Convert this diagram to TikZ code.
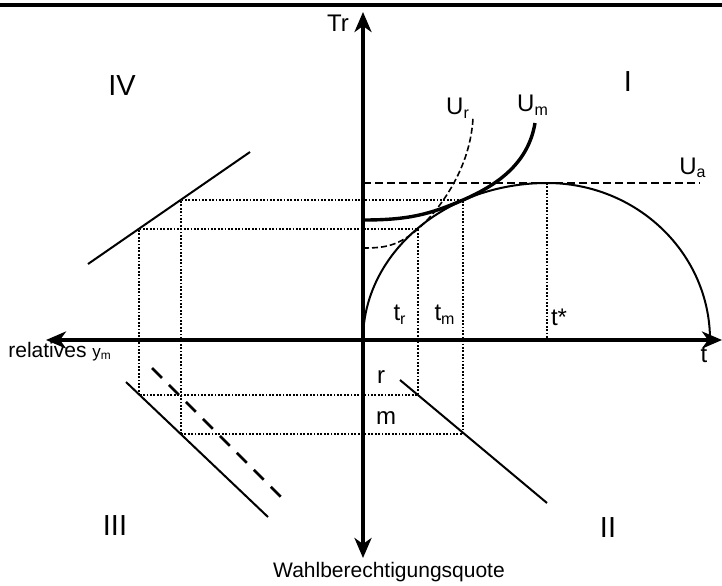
\documentclass[tikz,border=0pt]{standalone}
\usepackage{fontspec}
\setmainfont{Liberation Sans}
\usepackage{tikz}
\usetikzlibrary{arrows.meta, positioning}

\begin{document}
\begin{tikzpicture}[
  x=0.5pt, y=-0.5pt,
  axis/.style={{Stealth[length=10pt, width=8.5pt, inset=3pt]}-{Stealth[length=10pt, width=8.5pt, inset=3pt]}, line width=2pt},
  curve/.style={line width=1pt},
  util/.style={line width=1.7pt},
  utilr/.style={line width=0.8pt, dash pattern=on 3pt off 1.5pt},
  level/.style={line width=0.8pt, dash pattern=on 4pt off 2pt},
  guide/.style={line width=1pt, dash pattern=on 0.9pt off 0.8pt},
  proj/.style={line width=1pt},
  projd/.style={line width=1.3pt, dash pattern=on 7pt off 5pt},
  lbl/.style={font=\fontsize{12}{14}\selectfont, inner sep=0pt},
  quad/.style={font=\fontsize{14.5}{16}\selectfont, inner sep=0pt}
]
  \useasboundingbox (0,0) rectangle (722,585);
  \draw[line width=2pt] (0,4.5) -- (722,4.5);

  % axes
  \coordinate (O) at (363,340);
  \coordinate (xl) at (46,340);
  \coordinate (xr) at (722,340);
  \coordinate (yt) at (363,12);
  \coordinate (yb) at (363,558);
  \draw[axis] (xl) -- (xr);
  \draw[axis] (yb) -- (yt);

  % points of tangency and their projections
  \coordinate (Pr) at (418,229);
  \coordinate (Pm) at (463,200);
  \coordinate (Ps) at (547,183);
  \coordinate (Ps0) at (547,340);
  \coordinate (Qr) at (139,395);
  \coordinate (Qm) at (181,434);
  \coordinate (Ur0) at (363,248);
  \coordinate (Um0) at (363,220);
  \coordinate (Urend) at (473,118);
  \coordinate (Umend) at (535,123);
  \coordinate (Uaend) at (700,183);
  \coordinate (Ua0) at (363,183);
  \coordinate (Tend) at (710,340);

  % dotted guides
  \draw[guide] (Qr) rectangle (Pr);
  \draw[guide] (Qm) rectangle (Pm);
  \draw[guide] (Ps) -- (Ps0);

  % transformation curve
  \draw[curve] (O) .. controls (363,253.3) and (445.4,183) .. (Ps)
                   .. controls (637,183) and (710,253.3) .. (Tend);
  \draw[level] (Ua0) -- (Uaend);
  \draw[util] (Um0) .. controls (410,220) and (430,214) .. (Pm)
                    .. controls (495,186) and (528,165) .. (Umend);
  \draw[utilr] (Ur0) .. controls (385,248) and (398,246) .. (Pr)
                     .. controls (432,217) and (470,175) .. (Urend);

  % quadrant lines
  \coordinate (a4) at (88,264);
  \coordinate (b4) at (250,152);
  \coordinate (a3) at (126,382);
  \coordinate (b3) at (268,517);
  \coordinate (c3) at (152,368);
  \coordinate (d3) at (286,502);
  \coordinate (a2) at (400,380);
  \coordinate (b2) at (547,503);
  \draw[proj] (a4) -- (b4);
  \draw[proj] (a3) -- (b3);
  \draw[projd] (c3) -- (d3);
  \draw[proj] (a2) -- (b2);

  % labels
  \node[lbl] (tr) at (338,23) {Tr};
  \node[lbl] (tt) at (704,355) {t};
  \node[lbl, anchor=west, font=\fontsize{10.5}{12}\selectfont] (rel) at (8,352)
    {relatives {\fontsize{8.5}{10}\selectfont y\textsubscript{m}}};
  \node[lbl, font=\fontsize{10.5}{12}\selectfont] (wq) at (389,572) {Wahlberechtigungsquote};
  \node[lbl] (ur) at (458,108) {U\textsubscript{r}};
  \node[lbl] (um) at (533,105) {U\textsubscript{m}};
  \node[lbl] (ua) at (693,168) {U\textsubscript{a}};
  \node[lbl] (ltr) at (400,315) {t\textsubscript{r}};
  \node[lbl] (ltm) at (445,315) {t\textsubscript{m}};
  \node[lbl] (lts) at (559,317) {t*};
  \node[lbl] (lr) at (381,377) {r};
  \node[lbl] (lm) at (386,418) {m};
  \node[quad] (q1) at (628,82) {I};
  \node[quad] (q2) at (608,528) {II};
  \node[quad] (q3) at (115,526) {III};
  \node[quad] (q4) at (122,86) {IV};
\end{tikzpicture}
\end{document}
